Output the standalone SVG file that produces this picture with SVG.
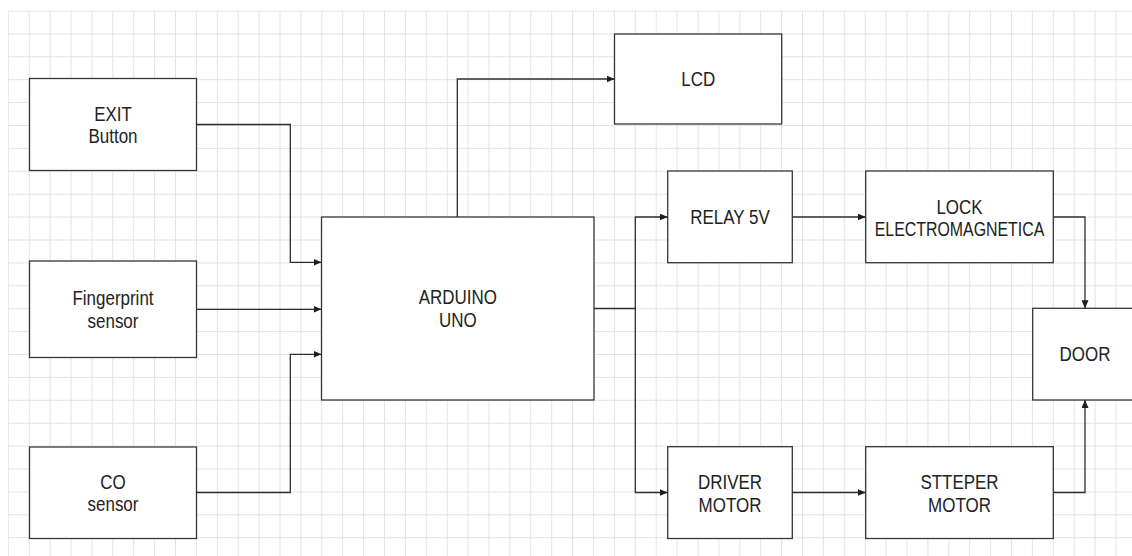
<svg xmlns="http://www.w3.org/2000/svg" width="1132" height="556" viewBox="0 0 1132 556">
<style>
.box{fill:#fff;stroke:#363636;stroke-width:1.3}
.wire{fill:none;stroke:#2e2e2e;stroke-width:1.3}
.lbl{font-family:"Liberation Sans",Arial,sans-serif;font-size:19.5px;fill:#222;text-anchor:middle}
</style>
<defs>
<pattern id="grid" patternUnits="userSpaceOnUse" x="7.8" y="10.5" width="20.9" height="22.9">
<path d="M0.5 0V22.9M0 0.5H20.9" fill="none" stroke="#e3e3e3" stroke-width="1"/>
</pattern>
<marker id="arr" markerUnits="userSpaceOnUse" markerWidth="9" markerHeight="8" refX="8" refY="3.5" orient="auto">
<path d="M0,0 L8,3.5 L0,7 z" fill="#1e1e1e"/>
</marker>
</defs>
<rect width="1132" height="556" fill="#fff"/>
<rect x="7.8" y="10.5" width="1125" height="546" fill="url(#grid)"/>

<g id="exit-button">
<rect class="box" x="29.5" y="78.5" width="167" height="92"/>
<text class="lbl" transform="translate(113,120.5) scale(0.87,1)"><tspan x="0" y="0">EXIT</tspan><tspan x="0" y="22.7">Button</tspan></text>
</g>
<g id="fingerprint-sensor">
<rect class="box" x="29.5" y="261" width="167" height="96.5"/>
<text class="lbl" transform="translate(113,305) scale(0.87,1)"><tspan x="0" y="0">Fingerprint</tspan><tspan x="0" y="22.7">sensor</tspan></text>
</g>
<g id="co-sensor">
<rect class="box" x="29.5" y="447" width="167" height="91.5"/>
<text class="lbl" transform="translate(113,488.5) scale(0.87,1)"><tspan x="0" y="0">CO</tspan><tspan x="0" y="22.7">sensor</tspan></text>
</g>
<g id="arduino-uno">
<rect class="box" x="321.5" y="217" width="272.5" height="183"/>
<text class="lbl" transform="translate(457.8,304.3) scale(0.87,1)"><tspan x="0" y="0">ARDUINO</tspan><tspan x="0" y="22.7">UNO</tspan></text>
</g>
<g id="lcd">
<rect class="box" x="614.5" y="34" width="167.2" height="90"/>
<text class="lbl" transform="translate(698.2,86) scale(0.87,1)">LCD</text>
</g>
<g id="relay-5v">
<rect class="box" x="667.7" y="171" width="124.6" height="91.7"/>
<text class="lbl" transform="translate(730,223.8) scale(0.87,1)">RELAY 5V</text>
</g>
<g id="lock-electromagnetica">
<rect class="box" x="865.7" y="171" width="187.6" height="91.7"/>
<text class="lbl" transform="translate(959.5,213.5) scale(0.87,1)"><tspan x="0" y="0">LOCK</tspan><tspan x="0" y="22.7" textLength="195" lengthAdjust="spacingAndGlyphs">ELECTROMAGNETICA</tspan></text>
</g>
<g id="door">
<rect class="box" x="1032.7" y="308.3" width="105" height="91.7"/>
<text class="lbl" transform="translate(1085,361) scale(0.87,1)">DOOR</text>
</g>
<g id="driver-motor">
<rect class="box" x="667.7" y="446.7" width="124.6" height="91.8"/>
<text class="lbl" transform="translate(730,489) scale(0.87,1)"><tspan x="0" y="0">DRIVER</tspan><tspan x="0" y="22.7">MOTOR</tspan></text>
</g>
<g id="stteper-motor">
<rect class="box" x="865.7" y="446.7" width="187.6" height="91.8"/>
<text class="lbl" transform="translate(959.5,489) scale(0.87,1)"><tspan x="0" y="0">STTEPER</tspan><tspan x="0" y="22.7">MOTOR</tspan></text>
</g>

<g id="connectors">
<path class="wire" marker-end="url(#arr)" d="M196.5 124.5H290.3V262.3H321.5"/>
<path class="wire" marker-end="url(#arr)" d="M196.5 309.3H321.5"/>
<path class="wire" marker-end="url(#arr)" d="M196.5 492.5H290.3V354.3H321.5"/>
<path class="wire" marker-end="url(#arr)" d="M457.3 217V79H614.5"/>
<path class="wire" marker-end="url(#arr)" d="M594 308.5H635.3V217H667.7"/>
<path class="wire" marker-end="url(#arr)" d="M635.3 308.5V492.5H667.7"/>
<path class="wire" marker-end="url(#arr)" d="M792.3 217H865.7"/>
<path class="wire" marker-end="url(#arr)" d="M1053.3 217H1085V308.3"/>
<path class="wire" marker-end="url(#arr)" d="M792.3 492.5H865.7"/>
<path class="wire" marker-end="url(#arr)" d="M1053.3 492.5H1085V400"/>
</g>
</svg>
